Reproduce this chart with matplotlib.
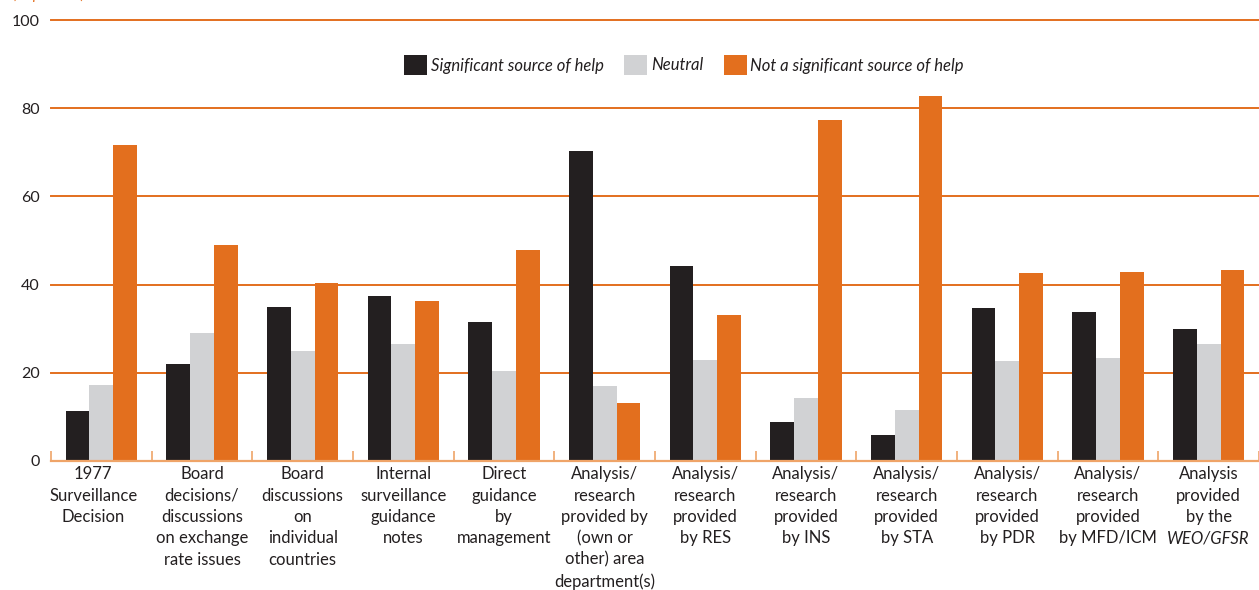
import matplotlib
matplotlib.use("Agg")
import matplotlib.pyplot as plt
from matplotlib.patches import Patch
from matplotlib.transforms import ScaledTranslation
import numpy as np

plt.rcParams["font.family"] = ["Lato", "DejaVu Sans"]

categories = [
    "1977\nSurveillance\nDecision",
    "Board\ndecisions/\ndiscussions\non exchange\nrate issues",
    "Board\ndiscussions\non\nindividual\ncountries",
    "Internal\nsurveillance\nguidance\nnotes",
    "Direct\nguidance\nby\nmanagement",
    "Analysis/\nresearch\nprovided by\n(own or\nother) area\ndepartment(s)",
    "Analysis/\nresearch\nprovided\nby RES",
    "Analysis/\nresearch\nprovided\nby INS",
    "Analysis/\nresearch\nprovided\nby STA",
    "Analysis/\nresearch\nprovided\nby PDR",
    "Analysis/\nresearch\nprovided\nby MFD/ICM",
    "Analysis\nprovided\nby the",
]
italic_suffix = "WEO/GFSR"  # italic last line of the final category
significant = [11.3, 22.0, 34.8, 37.3, 31.6, 70.3, 44.2, 8.8, 5.9, 34.6, 33.7, 30.0]
neutral = [17.2, 29.0, 24.8, 26.4, 20.3, 17.0, 22.9, 14.2, 11.5, 22.6, 23.3, 26.6]
not_significant = [71.7, 49.0, 40.4, 36.3, 47.9, 13.1, 33.1, 77.3, 82.8, 42.7, 42.9, 43.2]
series_names = ["Significant source of help", "Neutral", "Not a significant source of help"]
y_ticks = [0, 20, 40, 60, 80, 100]

DARK = "#231F20"
GRAY = "#D1D2D4"
ORANGE = "#E36F1E"
LIGHT_ORANGE = "#EFA468"

LABEL_SIZE = 12
LINE_SPACING = 1.41
LABEL_PAD = 4

W, H = 1259, 590
fig = plt.figure(figsize=(W / 100, H / 100), dpi=100)
ax = fig.add_axes([51 / W, 1 - 460.7 / H, 1 - 51 / W, (460.7 - 20.3) / H])

x = np.arange(len(categories))
bw = 0.236
series = [significant, neutral, not_significant]
colors = [DARK, GRAY, ORANGE]
for i, (vals, col) in enumerate(zip(series, colors)):
    ax.bar(x + (i - 1) * bw, vals, width=bw, color=col, zorder=3, linewidth=0)

ax.set_xlim(-0.5, len(categories) - 0.5)
ax.set_ylim(0, 100)

# horizontal gridlines
for t in y_ticks[1:]:
    ax.axhline(t, color=ORANGE, lw=1.4, zorder=1, clip_on=False)
ax.axhline(0, color=LIGHT_ORANGE, lw=1.6, zorder=4, clip_on=False)

for s in ax.spines.values():
    s.set_visible(False)

ax.set_yticks(y_ticks)
ax.set_yticklabels([str(t) for t in y_ticks])
ax.tick_params(axis="y", length=0, pad=8, labelsize=11.5, labelcolor=DARK)

ax.set_xticks(x)
ax.set_xticklabels(categories, fontsize=LABEL_SIZE, color=DARK, linespacing=LINE_SPACING)
ax.tick_params(axis="x", which="major", length=0, pad=LABEL_PAD)
ax.set_xticks(np.arange(-0.5, len(categories) + 0.5, 1), minor=True)
ax.tick_params(axis="x", which="minor", direction="in", length=7.5,
               width=1.2, color=LIGHT_ORANGE)

# nudge the first category label slightly left
first = ax.get_xticklabels()[0]
first.set_transform(first.get_transform()
                    + ScaledTranslation(-8 / 100, 0, fig.dpi_scale_trans))

handles = [Patch(facecolor=c, edgecolor="none") for c in colors]
fig.legend(handles, series_names, loc="center", ncol=3,
           bbox_to_anchor=(684 / W, 1 - 65 / H), frameon=False,
           prop={"family": "Lato", "style": "italic", "size": 12},
           handlelength=1.38, handleheight=1.5, handletextpad=0.2,
           columnspacing=1.25, labelcolor=DARK)

fig.text(13 / W, 1 + 1 / H, "(In percent)", color=ORANGE, style="italic",
         fontsize=11, va="baseline", ha="left")

# italic report name as the next line below the final category label
fig.canvas.draw()
renderer = fig.canvas.get_renderer()
last = ax.get_xticklabels()[-1]
bb = last.get_window_extent(renderer)
probe = fig.text(0, 0, "Analysis", fontsize=LABEL_SIZE)
h1 = probe.get_window_extent(renderer).height
probe.remove()
n_lines = categories[-1].count("\n") + 1
step = (bb.height - h1) / (n_lines - 1)
fig.text(bb.x0 + bb.width / 2, bb.y1 - n_lines * step, italic_suffix,
         transform=None, ha="center", va="top", fontsize=LABEL_SIZE,
         fontstyle="italic", color=DARK)

fig.savefig("out.png", dpi=100)
